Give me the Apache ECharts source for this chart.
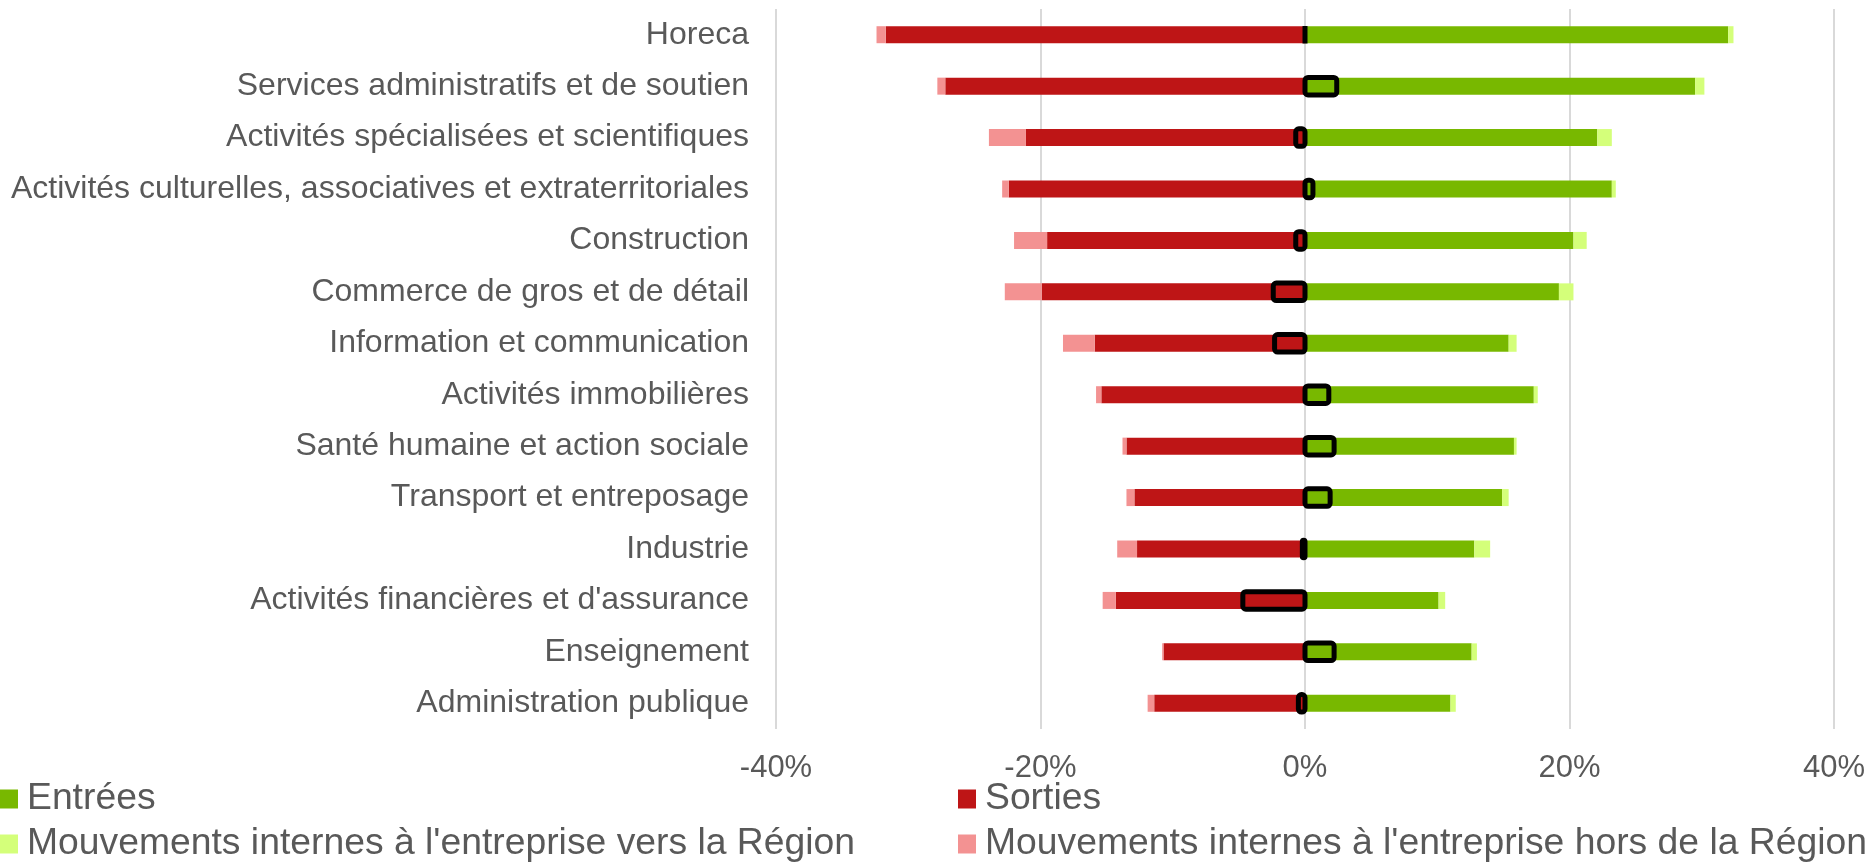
<!DOCTYPE html>
<html>
<head>
<meta charset="utf-8">
<script src="https://cdn.jsdelivr.net/npm/echarts@6/dist/echarts.min.js"></script>
<style>
  html, body { margin: 0; padding: 0; background: #fff; }
  #main { width: 1872px; height: 865px; }
</style>
</head>
<body>
<div id="main"></div>
<script>
// secteurs (du haut vers le bas)
var secteurs = ['Horeca', 'Services administratifs et de soutien', 'Activités spécialisées et scientifiques',
    'Activités culturelles, associatives et extraterritoriales', 'Construction', 'Commerce de gros et de détail',
    'Information et communication', 'Activités immobilières', 'Santé humaine et action sociale',
    'Transport et entreposage', 'Industrie', "Activités financières et d'assurance", 'Enseignement',
    'Administration publique'];

// valeurs en %
var entrees      = [32.0, 29.5, 22.1, 23.2, 20.3, 19.2, 15.4, 17.3, 15.8, 14.9, 12.8, 10.1, 12.6, 11.0];
var internesVers = [0.4, 0.7, 1.1, 0.3, 1.0, 1.1, 0.6, 0.3, 0.2, 0.5, 1.2, 0.5, 0.4, 0.4];
var sorties      = [-31.7, -27.2, -21.1, -22.4, -19.5, -19.9, -15.9, -15.4, -13.5, -12.9, -12.7, -14.3, -10.7, -11.4];
var internesHors = [-0.7, -0.6, -2.8, -0.5, -2.5, -2.8, -2.4, -0.4, -0.3, -0.6, -1.5, -1.0, -0.1, -0.5];
var solde        = [0.0, 2.4, -0.7, 0.6, -0.7, -2.4, -2.3, 1.8, 2.2, 1.9, -0.2, -4.7, 2.2, -0.5];

var xTicks = { min: -40, max: 40, interval: 20 };

var myChart = echarts.init(document.getElementById('main'));

var police = 'Liberation Sans, Arial, sans-serif';
var gris = '#595959';

function barre(nom, data, couleur){
    return {
        name: nom,
        type: 'bar',
        stack: 'flux',
        barWidth: 17,
        itemStyle: { color: couleur },
        emphasis: { disabled: true },
        data: data
    };
}

// contour noir du solde (trait centré sur le bord, comme dans Excel)
function dessineSolde(params, api){
    var i = api.value(0);
    var debut = api.coord([0, i]);
    var fin = api.coord([api.value(1), i]);
    var h = 17.5;
    var x = Math.min(debut[0], fin[0]);
    var w = Math.abs(fin[0] - debut[0]);
    return {
        type: 'rect',
        shape: { x: x, y: debut[1] - h / 2, width: w, height: h, r: 3 },
        style: { fill: 'none', stroke: '#000', lineWidth: 5 }
    };
}

var legendeStyle = { fontSize: 37.3, color: gris, fontFamily: police, padding: [0, 0, 0, 4], lineHeight: 38 };

var option = {
    animation: false,
    textStyle: { fontFamily: police },
    grid: { left: 776, right: 38, top: 9, bottom: 136, containLabel: false },
    legend: [
        {
            orient: 'vertical', left: 0, top: 780, itemGap: 7, padding: 0,
            itemWidth: 18, itemHeight: 19, icon: 'rect',
            textStyle: legendeStyle,
            data: ['Entrées', "Mouvements internes à l'entreprise vers la Région"]
        },
        {
            orient: 'vertical', left: 958, top: 780, itemGap: 7, padding: 0,
            itemWidth: 18, itemHeight: 19, icon: 'rect',
            textStyle: legendeStyle,
            data: ['Sorties', "Mouvements internes à l'entreprise hors de la Région"]
        }
    ],
    xAxis: {
        type: 'value',
        min: xTicks.min, max: xTicks.max, interval: xTicks.interval,
        axisLine: { show: false },
        axisTick: { show: false },
        axisLabel: { formatter: '{value}%', color: gris, fontSize: 31, margin: 24, fontFamily: police },
        splitLine: { show: true, lineStyle: { color: '#d9d9d9', width: 2 } }
    },
    yAxis: {
        type: 'category',
        inverse: true,
        data: secteurs,
        axisLine: { show: false },
        axisTick: { show: false },
        axisLabel: { color: gris, fontSize: 32, margin: 27, fontFamily: police }
    },
    series: [
        barre('Entrées', entrees, '#78b800'),
        barre("Mouvements internes à l'entreprise vers la Région", internesVers, '#d4ff7a'),
        barre('Sorties', sorties, '#be1516'),
        barre("Mouvements internes à l'entreprise hors de la Région", internesHors, '#f39292'),
        {
            name: 'Solde',
            type: 'custom',
            z: 5,
            renderItem: dessineSolde,
            encode: { x: 1, y: 0 },
            data: solde.map(function(v, i){ return [i, v]; })
        }
    ]
};

myChart.setOption(option);
</script>
</body>
</html>
